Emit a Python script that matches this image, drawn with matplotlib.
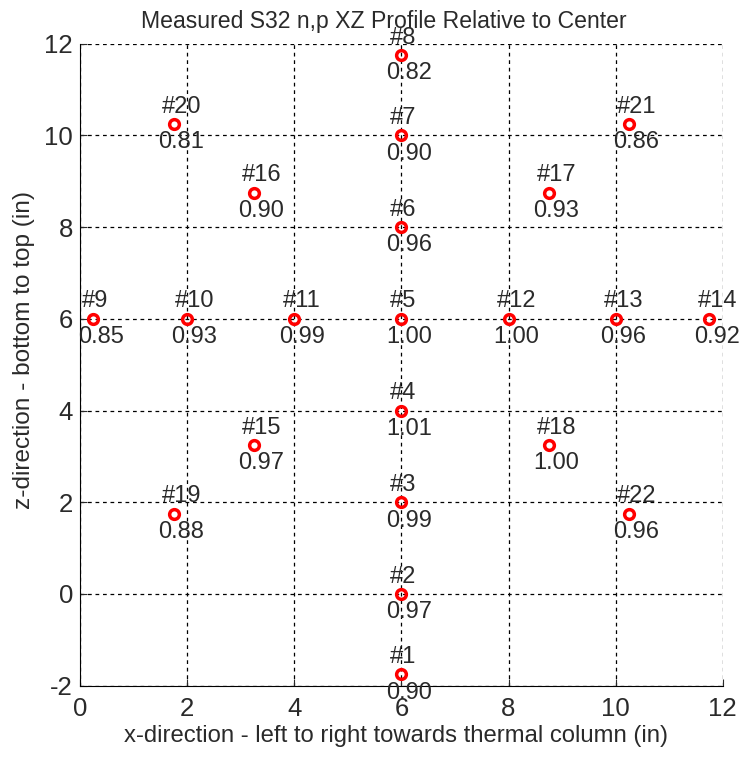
import matplotlib.pyplot as plt

plt.rcParams["font.family"] = ["Liberation Sans", "DejaVu Sans"]
plt.rcParams["axes.unicode_minus"] = False

# detector positions (in) and measured relative values
point_ids = [1, 2, 3, 4, 5, 6, 7, 8, 9, 10, 11,
             12, 13, 14, 15, 16, 17, 18, 19, 20, 21, 22]
x_pos = [6, 6, 6, 6, 6, 6, 6, 6, 0.25, 2, 4,
         8, 10, 11.75, 3.25, 3.25, 8.75, 8.75, 1.75, 1.75, 10.25, 10.25]
z_pos = [-1.75, 0, 2, 4, 6, 8, 10, 11.75, 6, 6, 6,
         6, 6, 6, 3.25, 8.75, 8.75, 3.25, 1.75, 10.25, 10.25, 1.75]
values = [0.90, 0.97, 0.99, 1.01, 1.00, 0.96, 0.90, 0.82, 0.85, 0.93, 0.99,
          1.00, 0.96, 0.92, 0.97, 0.90, 0.93, 1.00, 0.88, 0.81, 0.86, 0.96]

TEXT_COLOR = "#2a2a2a"


def draw_profile():
    fig = plt.figure(figsize=(7.39, 7.57), dpi=100)
    ax = fig.add_axes([0.1083, 0.0942, 0.8697, 0.8481])

    ax.plot(x_pos, z_pos, "o", linestyle="none", markersize=7,
            markerfacecolor="none", markeredgecolor="red", markeredgewidth=2.5)

    for pid, x, z, v in zip(point_ids, x_pos, z_pos, values):
        ax.text(x - 0.22, z + 0.38, f"#{pid}", ha="left", va="center",
                fontsize=17, color=TEXT_COLOR)
        ax.text(x - 0.29, z - 0.40, f"{v:.2f}", ha="left", va="center",
                fontsize=17, color=TEXT_COLOR)

    ax.set_xlim(0, 12)
    ax.set_ylim(-2, 12)
    ax.set_xticks(range(0, 13, 2))
    ax.set_yticks(range(-2, 13, 2))
    ax.grid(True, color="black", linestyle=(0, (3, 3)), linewidth=0.9)
    ax.spines["top"].set_visible(False)
    ax.spines["right"].set_visible(False)
    ax.tick_params(direction="in", length=5, labelsize=18.5, colors=TEXT_COLOR)
    ax.tick_params(axis="x", pad=8)
    ax.tick_params(axis="y", pad=5)

    ax.set_title("Measured S32 n,p XZ Profile Relative to Center",
                 fontsize=16.6, color=TEXT_COLOR, pad=11, x=0.473)
    ax.set_xlabel("x-direction - left to right towards thermal column (in)",
                  fontsize=17.2, color=TEXT_COLOR)
    ax.xaxis.set_label_coords(0.492, -0.062)
    ax.set_ylabel("z-direction - bottom to top (in)",
                  fontsize=17.6, color=TEXT_COLOR)
    ax.yaxis.set_label_coords(-0.07, 0.523)

    fig.savefig("out.png", dpi=100)


if __name__ == "__main__":
    draw_profile()
